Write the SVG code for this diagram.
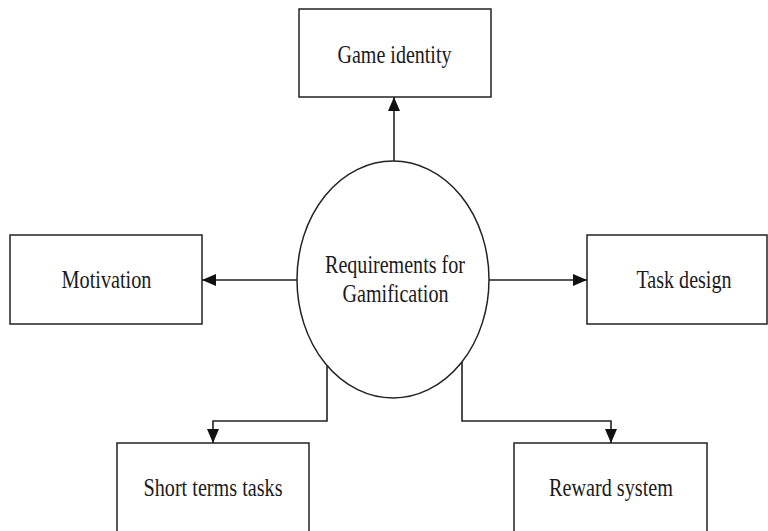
<svg xmlns="http://www.w3.org/2000/svg" width="768" height="531" viewBox="0 0 768 531">
<style>
.box{fill:#fff;stroke:#222;stroke-width:1.5}
.lbl{font-family:'Liberation Serif','Times New Roman',serif;font-size:25px;fill:#1a1a1a;text-anchor:middle}
.con{fill:none;stroke:#222;stroke-width:1.6}
</style>
<defs>
<marker id="arr" markerUnits="userSpaceOnUse" markerWidth="14" markerHeight="14" viewBox="0 0 14 14" refX="14" refY="7" orient="auto">
<path d="M0,1 L14,7 L0,13 Z" fill="#111"/>
</marker>
</defs>
<rect width="768" height="531" fill="#fff"/>
<g id="connectors">
<path class="con" d="M394,161 V97" marker-end="url(#arr)"/>
<path class="con" d="M297,280 H202" marker-end="url(#arr)"/>
<path class="con" d="M489,280 H587" marker-end="url(#arr)"/>
<path class="con" d="M327,366 V421 H213 V443" marker-end="url(#arr)"/>
<path class="con" d="M462,362 V421 H611 V443" marker-end="url(#arr)"/>
</g>
<g id="game-identity">
<rect class="box" x="299" y="9" width="192" height="88"/>
<text class="lbl" x="394.5" y="63" textLength="114" lengthAdjust="spacingAndGlyphs">Game identity</text>
</g>
<g id="motivation">
<rect class="box" x="10" y="235" width="192" height="89"/>
<text class="lbl" x="106.5" y="288" textLength="90" lengthAdjust="spacingAndGlyphs">Motivation</text>
</g>
<g id="task-design">
<rect class="box" x="587" y="235" width="180" height="89"/>
<text class="lbl" x="684" y="288" textLength="95" lengthAdjust="spacingAndGlyphs">Task design</text>
</g>
<g id="requirements">
<ellipse class="box" cx="393" cy="279.5" rx="96" ry="118.5"/>
<text class="lbl" x="395" y="273" textLength="140" lengthAdjust="spacingAndGlyphs">Requirements for</text>
<text class="lbl" x="395.5" y="302" textLength="106" lengthAdjust="spacingAndGlyphs">Gamification</text>
</g>
<g id="short-terms-tasks">
<rect class="box" x="117" y="443" width="192" height="100"/>
<text class="lbl" x="213" y="496" textLength="139" lengthAdjust="spacingAndGlyphs">Short terms tasks</text>
</g>
<g id="reward-system">
<rect class="box" x="514" y="443" width="193" height="100"/>
<text class="lbl" x="611" y="496" textLength="124" lengthAdjust="spacingAndGlyphs">Reward system</text>
</g>
</svg>
